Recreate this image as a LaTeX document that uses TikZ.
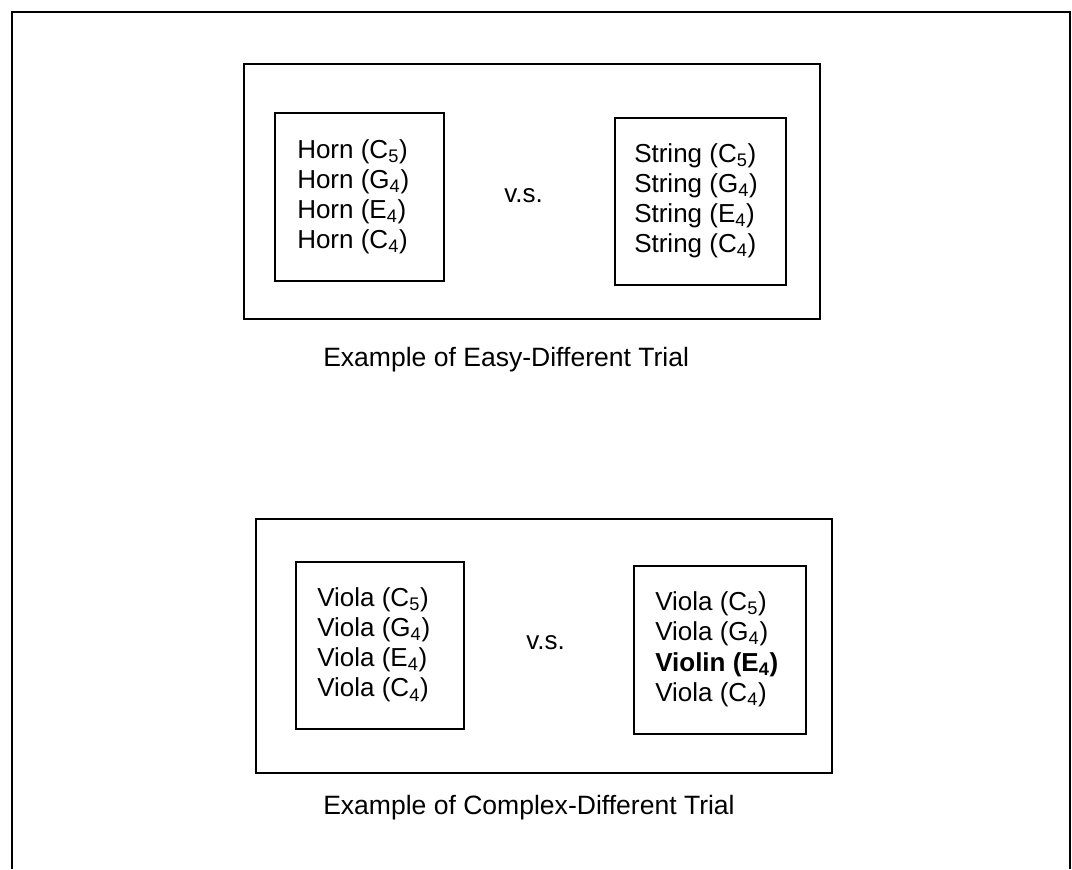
\documentclass[tikz,border=0pt]{standalone}
\usepackage{fontspec}
\setmainfont{Liberation Sans}
\usetikzlibrary{fit}
\tikzset{
  trialbox/.style={draw, line width=1pt, inner sep=0pt},
  notetext/.style={inner sep=0pt, font=\fontsize{19.5}{23}\selectfont},
  captiontext/.style={inner sep=0pt, font=\fontsize{19.9}{23}\selectfont},
}
\begin{document}
\begin{tikzpicture}[x=0.75pt, y=-0.75pt]
    \useasboundingbox (0,0) rectangle (1072,869);
    % Marco exterior
    \draw[line width=1pt] (12,869) -- (12,12) -- (1070,12) -- (1070,869);
    % Ensayo facil
    \node[trialbox, fit={(244,64) (820,319)}] (easyframe) {};
    \node[trialbox, fit={(275,113) (444,281)}] (hornbox) {};
    \node[trialbox, fit={(615,118) (786,285)}] (stringbox) {};
    \foreach \txt [count=\i from 0] in {Horn (C\textsubscript{5}), Horn (G\textsubscript{4}), Horn (E\textsubscript{4}), Horn (C\textsubscript{4})}
        \node[notetext, anchor=base west] (horn\i) at (297,{158+30.2*\i}) {\txt};
    \foreach \txt [count=\i from 0] in {String (C\textsubscript{5}), String (G\textsubscript{4}), String (E\textsubscript{4}), String (C\textsubscript{4})}
        \node[notetext, anchor=base west] (string\i) at (634,{162+30.2*\i}) {\txt};
    \node[notetext, anchor=base west] (easyvs) at (504,202) {v.s.};
    \node[captiontext, anchor=base west] (easycap) at (323,366) {Example of Easy-Different Trial};
    % Ensayo complejo
    \node[trialbox, fit={(256,519) (832,773)}] (complexframe) {};
    \node[trialbox, fit={(296,562) (464,729)}] (violabox) {};
    \node[trialbox, fit={(634,566) (806,734)}] (mixbox) {};
    \foreach \txt [count=\i from 0] in {Viola (C\textsubscript{5}), Viola (G\textsubscript{4}), Viola (E\textsubscript{4}), Viola (C\textsubscript{4})}
        \node[notetext, anchor=base west] (viola\i) at (317,{606+30.3*\i}) {\txt};
    \foreach \txt [count=\i from 0] in {Viola (C\textsubscript{5}), Viola (G\textsubscript{4}), \textbf{Violin (E\textsubscript{4})}, Viola (C\textsubscript{4})}
        \node[notetext, anchor=base west] (mix\i) at (655,{610+30.5*\i}) {\txt};
    \node[notetext, anchor=base west] (complexvs) at (526,649) {v.s.};
    \node[captiontext, anchor=base west] (complexcap) at (323,814) {Example of Complex-Different Trial};
\end{tikzpicture}
\end{document}
